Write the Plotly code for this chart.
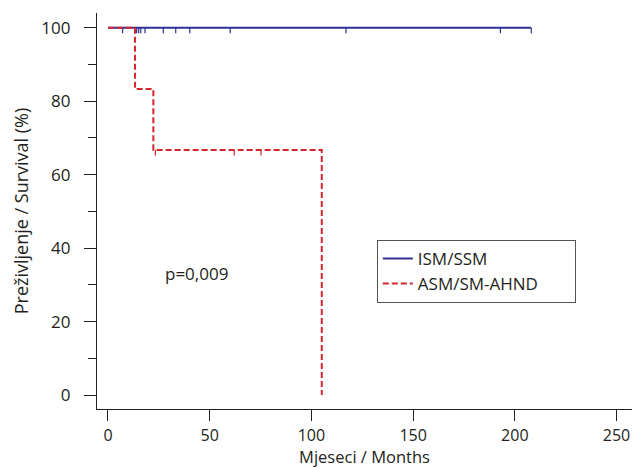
import plotly.graph_objects as go

# Kaplan-Meier step data (months, survival %)
ism_x = [0, 208]
ism_y = [100, 100]
ism_censor_x = [7.2, 14.1, 15.1, 16.1, 18.2, 27.2, 33.3, 40.2, 60.1, 117, 192.9, 208.1]
ism_censor_y = [100] * len(ism_censor_x)

asm_x = [0, 13.3, 22.3, 105.1, 105.1]
asm_y = [100, 83.3, 66.7, 66.7, 0]
asm_censor_x = [23.3, 62.1, 75.2]
asm_censor_y = [66.7, 66.7, 66.7]

x_ticks = [0, 50, 100, 150, 200, 250]
y_ticks = [0, 20, 40, 60, 80, 100]

BLUE = "#2e3192"
RED = "#d7262b"
FONT = "Open Sans"
TXT = "#231f20"

fig = go.Figure()

fig.add_trace(go.Scatter(x=ism_x, y=ism_y, mode="lines", line=dict(color=BLUE, width=2, shape="hv"),
                         name="ISM/SSM"))
fig.add_trace(go.Scatter(x=ism_censor_x, y=ism_censor_y, mode="markers", marker=dict(size=0.1, color=BLUE),
                         error_y=dict(type="data", symmetric=False, array=[0] * len(ism_censor_x),
                                      arrayminus=[1.5] * len(ism_censor_x), width=0, color=BLUE, thickness=1.2),
                         showlegend=False, hoverinfo="skip"))
fig.add_trace(go.Scatter(x=asm_x, y=asm_y, mode="lines", line=dict(color=RED, width=2, shape="hv", dash="6px,3px"),
                         name="ASM/SM-AHND\u00a0\u00a0\u00a0\u00a0\u00a0\u00a0\u00a0"))
fig.add_trace(go.Scatter(x=asm_censor_x, y=asm_censor_y, mode="markers", marker=dict(size=0.1, color=RED),
                         error_y=dict(type="data", symmetric=False, array=[0] * len(asm_censor_x),
                                      arrayminus=[1.5] * len(asm_censor_x), width=0, color=RED, thickness=1.2),
                         showlegend=False, hoverinfo="skip"))

fig.add_annotation(x=27, y=33.2, xref="x", yref="y", text="p=0,009", showarrow=False,
                   xanchor="left", yanchor="middle", font=dict(family=FONT, size=17, color=TXT))

fig.update_layout(
    width=632, height=468,
    margin=dict(l=97, r=0, t=13, b=59),
    paper_bgcolor="white", plot_bgcolor="white",
    font=dict(family=FONT, size=17, color=TXT),
    legend=dict(x=0.523, y=0.427, xanchor="left", yanchor="top",
                bordercolor="#555", borderwidth=1, bgcolor="white",
                font=dict(family=FONT, size=17, color=TXT),
                itemwidth=30, tracegroupgap=0),
    xaxis=dict(range=[-5.4, 257.6], tickvals=x_ticks, showline=True, linecolor=TXT, linewidth=1.2,
               ticks="outside", ticklen=11, tickwidth=1.2, tickcolor=TXT, showgrid=False, zeroline=False,
               tickfont=dict(size=16), ticklabelstandoff=1,
               title=dict(text="Mjeseci / Months", standoff=10, font=dict(family=FONT, size=16.5))),
    yaxis=dict(range=[-3.8, 104], tickvals=y_ticks, showline=True, linecolor=TXT, linewidth=1.2,
               ticks="outside", ticklen=12, tickwidth=1.2, tickcolor=TXT, showgrid=False, zeroline=False,
               tickfont=dict(size=17), ticklabelstandoff=10,
               minor=dict(tickvals=[10, 30, 50, 70, 90], ticks="outside", ticklen=8, tickwidth=1.2, tickcolor=TXT),
               title=dict(text="Preživljenje / Survival (%)", standoff=8, font=dict(family=FONT, size=18))),
)

fig.write_html("out.html", config={"displayModeBar": False},
               post_script="document.body.style.margin='0';document.body.style.overflow='hidden';")
